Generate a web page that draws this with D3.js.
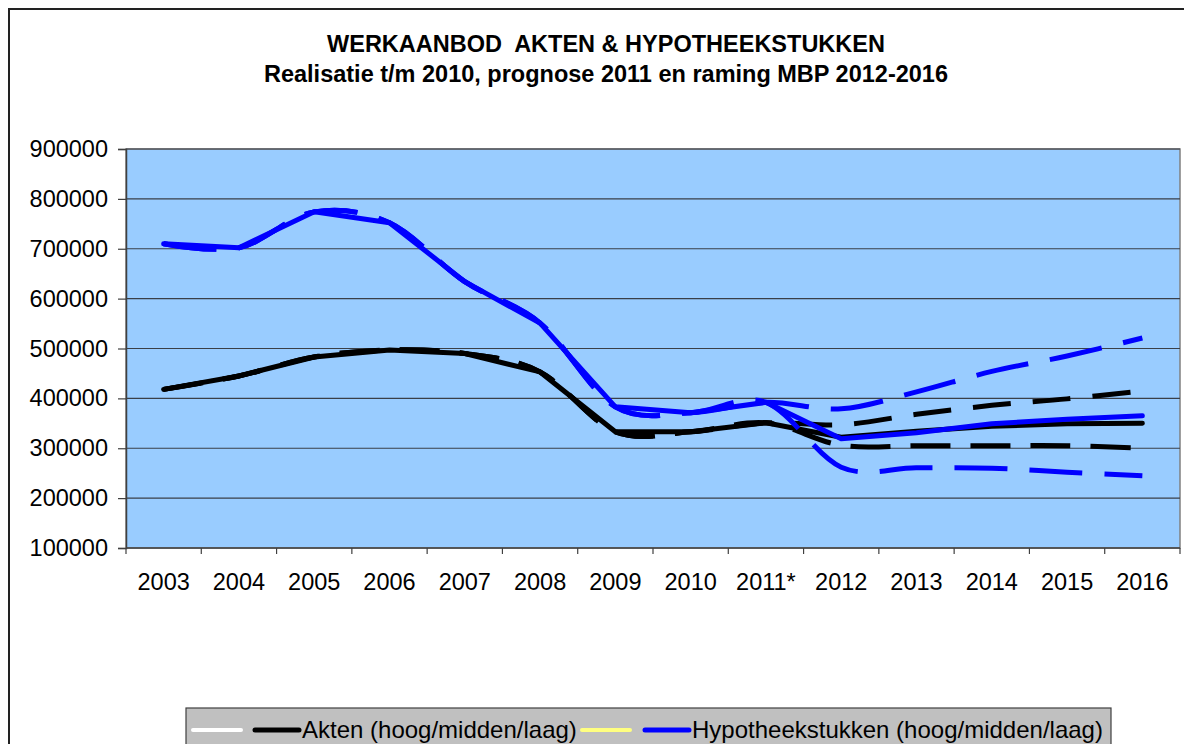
<!DOCTYPE html>
<html>
<head>
<meta charset="utf-8">
<script src="https://cdn.jsdelivr.net/npm/d3@7"></script>
<style>
  html, body { margin: 0; padding: 0; background: #ffffff; }
  svg { display: block; font-family: "Liberation Sans", Arial, sans-serif; }
</style>
</head>
<body>
<svg id="chart" width="1184" height="744"></svg>
<script>
// ---- data ----
const titleLines = ["WERKAANBOD  AKTEN & HYPOTHEEKSTUKKEN", "Realisatie t/m 2010, prognose 2011 en raming MBP 2012-2016"];
const categories = ["2003", "2004", "2005", "2006", "2007", "2008", "2009", "2010", "2011*", "2012", "2013", "2014", "2015", "2016"];
const yTicks = [100000, 200000, 300000, 400000, 500000, 600000, 700000, 800000, 900000];

const aktenHoog   = [418000, 445000, 483000, 497000, 490000, 453000, 333000, 333000, 351000, 347000, 368000, 386000, 399000, 415000];
const aktenMidden = [418000, 445000, 483000, 497000, 490000, 453000, 333000, 333000, 351000, 322000, 334000, 344000, 349000, 350000];
const aktenLaag   = [418000, 445000, 483000, 497000, 490000, 453000, 333000, 333000, 351000, 306000, 305000, 305000, 305000, 300000];

const hypHoog   = [710000, 702000, 774000, 752000, 634000, 551000, 383000, 371000, 392000, 379000, 413000, 454000, 485000, 521000];
const hypMidden = [710000, 702000, 774000, 752000, 634000, 551000, 383000, 371000, 392000, 319000, 331000, 349000, 358000, 365000];
const hypLaag   = [710000, 702000, 774000, 752000, 634000, 551000, 383000, 371000, 392000, 262000, 261000, 260000, 252000, 245000];

const legendLabels = ["", "Akten (hoog/midden/laag)", "", "Hypotheekstukken (hoog/midden/laag)"];

// ---- layout ----
const svg = d3.select("#chart");
const plot = { left: 126, right: 1180, top: 149, bottom: 548 };

const x = d3.scaleBand().domain(categories).range([plot.left, plot.right]).padding(0);
const y = d3.scaleLinear().domain([100000, 900000]).range([plot.bottom, plot.top]);
const cx = d => x(d) + x.bandwidth() / 2;

// outer chart border
svg.append("rect").attr("x", 9).attr("y", 9).attr("width", 1190).attr("height", 760)
  .attr("fill", "#ffffff").attr("stroke", "#222").attr("stroke-width", 2);

// titles
[52, 82].forEach((yy, i) => {
  svg.append("text").attr("x", 606).attr("y", yy).attr("text-anchor", "middle")
    .style("white-space", "pre")
    .attr("font-size", 23.5).attr("font-weight", "bold").attr("fill", "#000").text(titleLines[i]);
});

// plot area
svg.append("rect").attr("x", plot.left).attr("y", plot.top)
  .attr("width", plot.right - plot.left).attr("height", plot.bottom - plot.top)
  .attr("fill", "#99ccff").attr("stroke", "#808080").attr("stroke-width", 1.5);

// gridlines
svg.append("g").selectAll("line").data(yTicks.filter(t => t > 100000)).join("line")
  .attr("x1", plot.left).attr("x2", plot.right)
  .attr("y1", d => y(d)).attr("y2", d => y(d))
  .attr("stroke", "#3a3f48").attr("stroke-width", 1.2);

// y axis
const yAxis = d3.axisLeft(y).tickValues(yTicks).tickSize(8).tickPadding(10).tickFormat(d3.format("d"));
const gy = svg.append("g").attr("transform", `translate(${plot.left},0)`).call(yAxis);
gy.select(".domain").attr("stroke", "#404040").attr("stroke-width", 1.5);
gy.selectAll(".tick line").attr("stroke", "#404040").attr("stroke-width", 1.2);
gy.selectAll(".tick text").attr("font-size", 23.5).attr("fill", "#000")
  .attr("font-family", "Liberation Sans, Arial, sans-serif");

// x axis (ticks between categories)
const gx = svg.append("g").attr("transform", `translate(0,${plot.bottom})`);
gx.append("line").attr("x1", plot.left).attr("x2", plot.right).attr("y1", 0).attr("y2", 0)
  .attr("stroke", "#404040").attr("stroke-width", 1.5);
const boundaries = categories.map(c => x(c)).concat([plot.right]);
gx.selectAll("line.tk").data(boundaries).join("line").attr("class", "tk")
  .attr("x1", d => d).attr("x2", d => d).attr("y1", 0).attr("y2", 6)
  .attr("stroke", "#404040").attr("stroke-width", 1.2);
gx.selectAll("text").data(categories).join("text")
  .attr("x", d => cx(d)).attr("y", 42).attr("text-anchor", "middle")
  .attr("font-size", 23.5).attr("fill", "#000").text(d => d);

// lines
const lineLinear = d3.line().x((d, i) => cx(categories[i])).y(d => y(d)).curve(d3.curveLinear);
const lineSmooth = d3.line().x((d, i) => cx(categories[i])).y(d => y(d)).curve(d3.curveCatmullRom.alpha(0));

const series = [
  { data: aktenMidden, color: "#000000", dash: null, smooth: false },
  { data: aktenHoog, color: "#000000", dash: "38,22", smooth: true },
  { data: aktenLaag, color: "#000000", dash: "40,20", smooth: true },
  { data: hypMidden, color: "#0000ff", dash: null, smooth: false },
  { data: hypHoog, color: "#0000ff", dash: "53,22", smooth: true },
  { data: hypLaag, color: "#0000ff", dash: "53,22", smooth: true }
];
const gl = svg.append("g");
series.forEach(s => {
  gl.append("path").datum(s.data)
    .attr("d", s.smooth ? lineSmooth : lineLinear)
    .attr("fill", "none").attr("stroke", s.color).attr("stroke-width", 5)
    .attr("stroke-linecap", s.dash ? "butt" : "round")
    .attr("stroke-linejoin", "round")
    .attr("stroke-dasharray", s.dash);
});

// legend
const lg = svg.append("g");
lg.append("rect").attr("x", 186).attr("y", 708).attr("width", 925).attr("height", 50)
  .attr("fill", "#c0c0c0").attr("stroke", "#404040").attr("stroke-width", 1.2);
const legendItems = [
  { x1: 193, x2: 241, color: "#ffffff", w: 4, label: legendLabels[0] },
  { x1: 255, x2: 299, color: "#000000", w: 5, label: legendLabels[1] },
  { x1: 582, x2: 630, color: "#ffff80", w: 4, label: legendLabels[2] },
  { x1: 645, x2: 689, color: "#0000ff", w: 5, label: legendLabels[3] }
];
legendItems.forEach(it => {
  lg.append("line").attr("x1", it.x1).attr("x2", it.x2).attr("y1", 730).attr("y2", 730)
    .attr("stroke", it.color).attr("stroke-width", it.w).attr("stroke-linecap", "round");
  if (it.label) {
    lg.append("text").attr("x", it.x2 + 3).attr("y", 738).attr("font-size", 24)
      .attr("fill", "#000").text(it.label);
  }
});
</script>
</body>
</html>
